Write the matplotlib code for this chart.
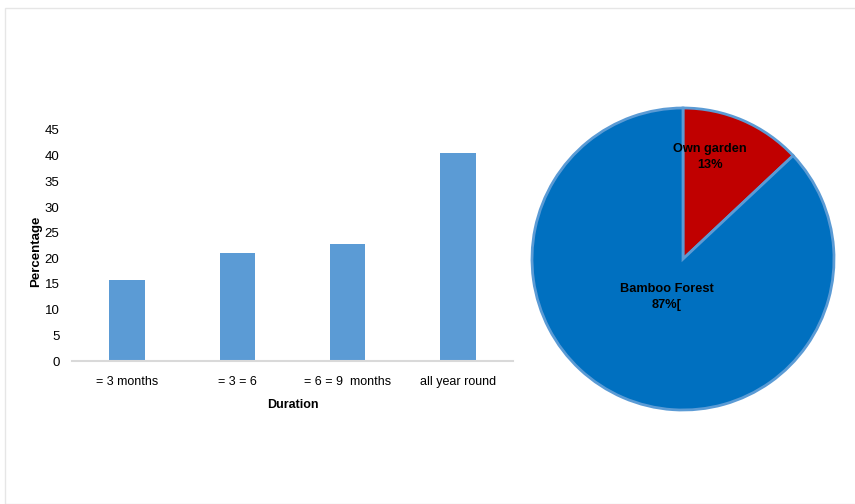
import matplotlib.pyplot as plt
from matplotlib.patches import Rectangle

plt.rcParams['font.family'] = ['Liberation Sans', 'DejaVu Sans']

durations = ['= 3 months', '= 3 = 6', '= 6 = 9  months', 'all year round']
percentages = [15.8, 21.0, 22.8, 40.5]

sources = ['Own garden', 'Bamboo Forest']
shares = [13, 87]
share_labels = ['Own garden\n13%', 'Bamboo Forest\n87%[']

fig = plt.figure(figsize=(8.55, 5.04), dpi=100)
fig.patches.append(Rectangle((5 / 855, 0), 1, 1 - 8 / 504, transform=fig.transFigure,
                             fill=False, edgecolor='#E6E6E6', linewidth=1))

# bar chart
ax = fig.add_axes([72 / 855, 143 / 504, 441 / 855, 231 / 504])
x = range(len(durations))
ax.bar(x, percentages, width=0.32, color='#5B9BD5')
ax.set_xlim(-0.5, len(durations) - 0.5)
ax.set_ylim(0, 45)
ax.set_yticks(range(0, 46, 5))
ax.set_xticks(list(x))
ax.set_xticklabels(durations)
ax.tick_params(length=0, labelsize=9, colors='#000000', pad=10.5)
ax.tick_params(axis='y', pad=9, labelsize=9.5)
for s in ['top', 'right', 'left']:
    ax.spines[s].set_visible(False)
ax.spines['bottom'].set_color('#D9D9D9')
ax.spines['bottom'].set_linewidth(1.5)
ax.set_xlabel('Duration', fontsize=9, fontweight='bold', labelpad=8)
ax.set_ylabel('Percentage', fontsize=9.5, fontweight='bold')
ax.yaxis.set_label_coords(-0.068, 0.475)

# pie chart
ax2 = fig.add_axes([532 / 855, 94 / 504, 302 / 855, 302 / 504])
ax2.pie(shares, colors=['#C00000', '#0070C0'], startangle=90, counterclock=False,
        wedgeprops=dict(edgecolor='#5B9BD5', linewidth=2))
ax2.set_xlim(-1, 1)
ax2.set_ylim(-1, 1)
ax2.text(0.18, 0.675, share_labels[0], ha='center', va='center', fontsize=9.2,
         fontweight='bold', linespacing=1.45)
ax2.text(-0.11, -0.25, share_labels[1], ha='center', va='center', fontsize=9.2,
         fontweight='bold', linespacing=1.45)

fig.savefig('out.png', dpi=100)
